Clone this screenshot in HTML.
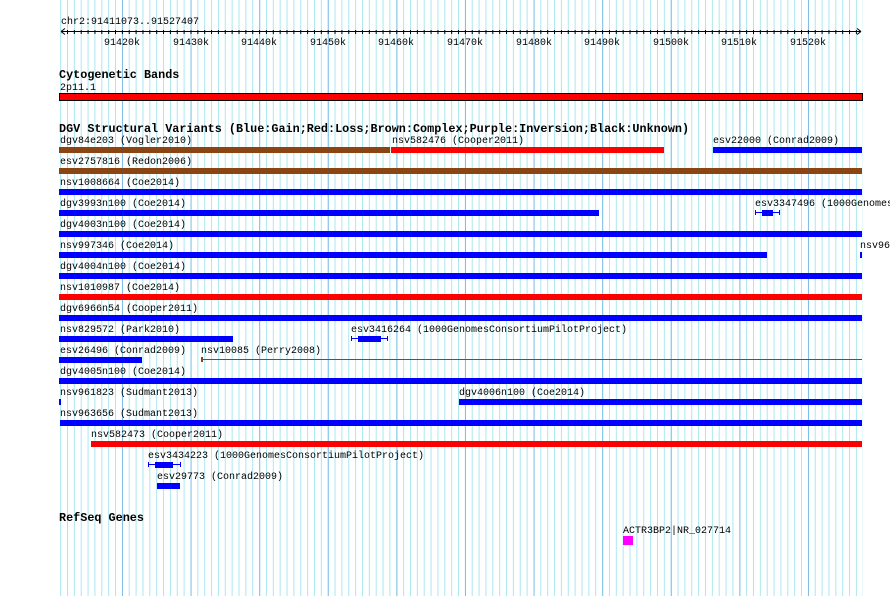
<!DOCTYPE html>
<html><head><meta charset="utf-8"><style>
html,body{margin:0;padding:0;background:#fff;}
svg{display:block;}
text{font-family:"Liberation Mono","DejaVu Sans Mono",monospace;font-size:10px;fill:#000;}
.b{font-weight:bold;font-size:11.8px;}
</style></head><body>
<svg width="890" height="596" viewBox="0 0 890 596" xmlns="http://www.w3.org/2000/svg">
<defs>
<pattern id="g" x="67" y="0" width="6.86" height="596" patternUnits="userSpaceOnUse">
<rect x="0" y="0" width="1" height="596" fill="#a8e8f0"/>
</pattern>
<pattern id="t" x="67" y="0" width="6.86" height="10" patternUnits="userSpaceOnUse">
<rect x="0" y="0" width="1" height="6" fill="#000"/>
</pattern>
</defs>
<rect x="60" y="0" width="803" height="596" fill="url(#g)"/>
<g fill="#80c0e8">
<rect x="122" y="0" width="1" height="596"/><rect x="190.6" y="0" width="1" height="596"/><rect x="259.2" y="0" width="1" height="596"/><rect x="327.8" y="0" width="1" height="596"/><rect x="396.4" y="0" width="1" height="596"/><rect x="465" y="0" width="1" height="596"/><rect x="533.6" y="0" width="1" height="596"/><rect x="602.2" y="0" width="1" height="596"/><rect x="670.8" y="0" width="1" height="596"/><rect x="739.4" y="0" width="1" height="596"/><rect x="808" y="0" width="1" height="596"/>
</g>
<!-- ruler -->
<text x="61" y="24">chr2:91411073..91527407</text>
<rect x="61" y="31" width="800" height="1" fill="#000"/>
<rect x="61" y="28" width="800" height="6" fill="url(#t)"/>
<path d="M61 31.5 L65 28.5 M61 31.5 L65 34.5 M861 31.5 L857 28.5 M861 31.5 L857 34.5" stroke="#000" stroke-width="1"/>
<g text-anchor="middle">
<text x="122" y="45">91420k</text><text x="191" y="45">91430k</text><text x="259" y="45">91440k</text><text x="328" y="45">91450k</text><text x="396" y="45">91460k</text><text x="465" y="45">91470k</text><text x="534" y="45">91480k</text><text x="602" y="45">91490k</text><text x="671" y="45">91500k</text><text x="739" y="45">91510k</text><text x="808" y="45">91520k</text>
</g>
<!-- cyto -->
<text class="b" x="59" y="78">Cytogenetic Bands</text>
<text x="60" y="90">2p11.1</text>
<rect x="59.5" y="93.5" width="803" height="7" fill="#f00" stroke="#000"/>
<!-- DGV -->
<text class="b" x="59" y="132">DGV Structural Variants (Blue:Gain;Red:Loss;Brown:Complex;Purple:Inversion;Black:Unknown)</text>
<text x="60" y="143">dgv84e203 (Vogler2010)</text>
<rect x="59" y="147" width="331" height="6" fill="#8b4513"/>
<text x="392" y="143">nsv582476 (Cooper2011)</text>
<rect x="391" y="147" width="273" height="6" fill="#f00"/>
<text x="713" y="143">esv22000 (Conrad2009)</text>
<rect x="713" y="147" width="149" height="6" fill="#00f"/>

<text x="60" y="164">esv2757816 (Redon2006)</text>
<rect x="59" y="168" width="803" height="6" fill="#8b4513"/>

<text x="60" y="185">nsv1008664 (Coe2014)</text>
<rect x="59" y="189" width="803" height="6" fill="#00f"/>

<text x="60" y="206">dgv3993n100 (Coe2014)</text>
<rect x="59" y="210" width="540" height="6" fill="#00f"/>
<text x="755" y="206">esv3347496 (1000Genomes</text>
<rect x="755" y="212" width="25" height="1" fill="#00f"/>
<rect x="755" y="210" width="1" height="5" fill="#00f"/><rect x="779" y="210" width="1" height="5" fill="#00f"/>
<rect x="762" y="210" width="11" height="6" fill="#00f"/>

<text x="60" y="227">dgv4003n100 (Coe2014)</text>
<rect x="59" y="231" width="803" height="6" fill="#00f"/>

<text x="60" y="248">nsv997346 (Coe2014)</text>
<rect x="59" y="252" width="708" height="6" fill="#00f"/>
<text x="860" y="248">nsv96</text>
<rect x="860" y="252" width="2" height="6" fill="#00f"/>

<text x="60" y="269">dgv4004n100 (Coe2014)</text>
<rect x="59" y="273" width="803" height="6" fill="#00f"/>

<text x="60" y="290">nsv1010987 (Coe2014)</text>
<rect x="59" y="294" width="803" height="6" fill="#f00"/>

<text x="60" y="311">dgv6966n54 (Cooper2011)</text>
<rect x="59" y="315" width="803" height="6" fill="#00f"/>

<text x="60" y="332">nsv829572 (Park2010)</text>
<rect x="59" y="336" width="174" height="6" fill="#00f"/>
<text x="351" y="332">esv3416264 (1000GenomesConsortiumPilotProject)</text>
<rect x="351" y="338" width="37" height="1" fill="#00f"/>
<rect x="351" y="336" width="1" height="5" fill="#00f"/><rect x="387" y="336" width="1" height="5" fill="#00f"/>
<rect x="358" y="336" width="23" height="6" fill="#00f"/>

<text x="60" y="353">esv26496 (Conrad2009)</text>
<rect x="59" y="357" width="83" height="6" fill="#00f"/>
<text x="201" y="353">nsv10085 (Perry2008)</text>
<rect x="201" y="359" width="661" height="1" fill="#8b4513"/>
<rect x="201" y="357" width="2" height="5" fill="#8b4513"/>

<text x="60" y="374">dgv4005n100 (Coe2014)</text>
<rect x="59" y="378" width="803" height="6" fill="#00f"/>

<text x="60" y="395">nsv961823 (Sudmant2013)</text>
<rect x="59" y="399" width="2" height="6" fill="#00f"/>
<text x="459" y="395">dgv4006n100 (Coe2014)</text>
<rect x="459" y="399" width="403" height="6" fill="#00f"/>

<text x="60" y="416">nsv963656 (Sudmant2013)</text>
<rect x="60" y="420" width="802" height="6" fill="#00f"/>

<text x="91" y="437">nsv582473 (Cooper2011)</text>
<rect x="91" y="441" width="771" height="6" fill="#f00"/>

<text x="148" y="458">esv3434223 (1000GenomesConsortiumPilotProject)</text>
<rect x="148" y="464" width="32" height="1" fill="#00f"/>
<rect x="148" y="462" width="1" height="5" fill="#00f"/><rect x="180" y="462" width="1" height="5" fill="#00f"/>
<rect x="155" y="462" width="18" height="6" fill="#00f"/>

<text x="157" y="479">esv29773 (Conrad2009)</text>
<rect x="157" y="483" width="23" height="6" fill="#00f"/>

<!-- RefSeq -->
<text class="b" x="59" y="521">RefSeq Genes</text>
<text x="623" y="533">ACTR3BP2|NR_027714</text>
<rect x="623" y="536" width="10" height="9" fill="#f0f"/>
</svg>
</body></html>
